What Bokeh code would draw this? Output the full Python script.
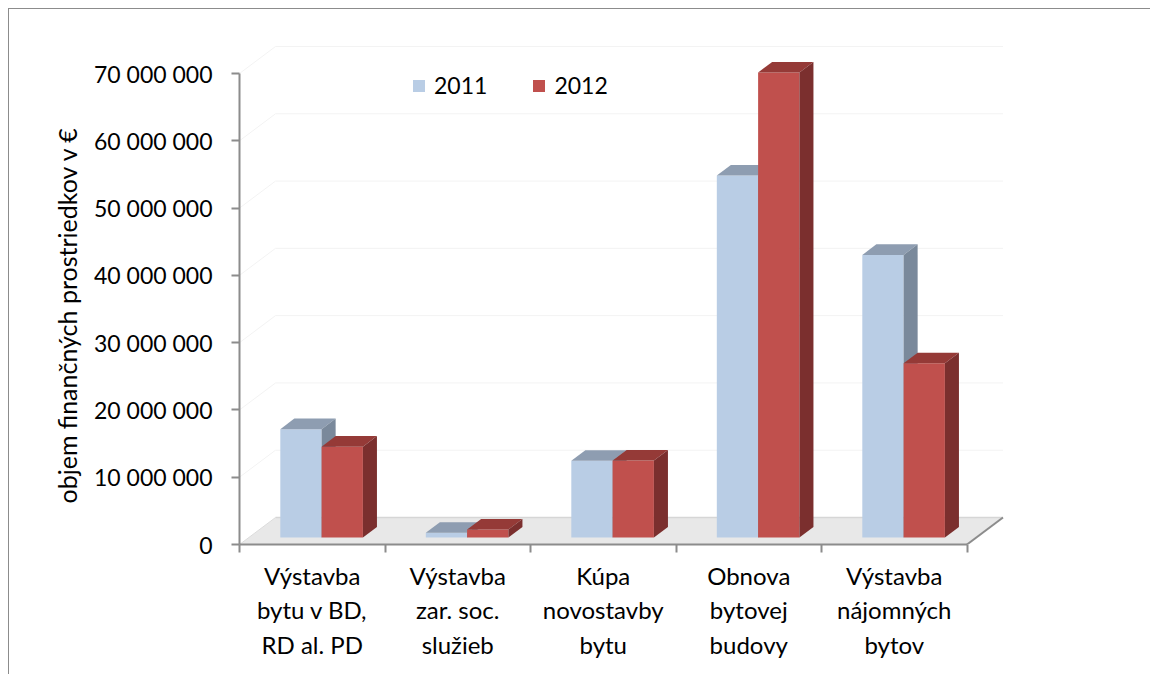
from bokeh.plotting import figure
from bokeh.models import FixedTicker, Range1d, Legend, LegendItem, Title, ColumnDataSource
from bokeh.embed import file_html
from bokeh.resources import INLINE

# ---------------- data ----------------
categories = [
    "Výstavba\nbytu v BD,\nRD al. PD",
    "Výstavba\nzar. soc.\nslužieb",
    "Kúpa\nnovostavby\nbytu",
    "Obnova\nbytovej\nbudovy",
    "Výstavba\nnájomných\nbytov",
]
series_names = ["2011", "2012"]
values_2011 = [16.1e6, 0.7e6, 11.4e6, 53.8e6, 42.0e6]
values_2012 = [13.5e6, 1.2e6, 11.45e6, 69.1e6, 25.9e6]
y_ticks = [0, 10e6, 20e6, 30e6, 40e6, 50e6, 60e6, 70e6]
y_tick_labels = ["0", "10 000 000", "20 000 000", "30 000 000", "40 000 000",
                 "50 000 000", "60 000 000", "70 000 000"]
y_title = "objem finančných prostriedkov v €"

# ---------------- style / geometry ----------------
FONT = "Lato"
N = len(categories)
PXX = 145.5            # px per category unit
PXY = 471.0 / 70e6     # px per value unit
DX = 36 / PXX          # floor depth (x units)
DY = 27 / PXY          # floor depth (value units)
BW = 41.3 / PXX        # bar width
F0 = 0.26              # bar front position in depth
FB = 0.39              # bar depth fraction

front_cols = ["#B9CDE5", "#C0504D"]
top_cols = ["#8E9DB1", "#953A37"]
side_cols = ["#7A899B", "#7B2F2E"]

FW, FH = 771, 504
p = figure(width=1142, height=666, output_backend="svg", toolbar_location=None,
           x_range=Range1d(0, FW / PXX), y_range=Range1d(0, FH / PXY),
           min_border_left=230, min_border_right=141, min_border_top=31, min_border_bottom=131)
p.outline_line_color = None
p.xgrid.visible = False
p.ygrid.visible = False
p.background_fill_color = "white"
p.border_fill_color = "white"
p.styles = {"border-top": "1px solid #8c8c8c", "border-left": "1px solid #8c8c8c",
            "margin-left": "8px", "margin-top": "8px"}

# walls: faint gridlines
gx, gy = [], []
for t in y_ticks[1:]:
    gx.append([0, DX, N + DX]); gy.append([t, t + DY, t + DY])
p.multi_line(gx, gy, line_color="#f3f3f3", line_width=1)

# floor
p.patch([0, N, N + DX, DX], [0, 0, DY, DY], fill_color="#e8e8e8", line_color=None)
p.line([DX, N + DX], [DY, DY], line_color="#d6d6d6", line_width=1.5)
p.line([0, DX], [0, DY], line_color="#dcdcdc", line_width=1)
p.line([N, N + DX], [0, DY], line_color="#8c8c8c", line_width=2)

sx = F0 * DX
sy = F0 * DY
bdx = FB * DX
bdy = FB * DY

legend_items = []
for si, vals in enumerate([values_2011, values_2012]):
    lefts = [i + 0.5 + sx - BW + si * BW for i in range(N)]
    rights = [l + BW for l in lefts]
    bottoms = [sy] * N
    tops = [v + sy for v in vals]
    src = ColumnDataSource(dict(left=lefts, right=rights, bottom=bottoms, top=tops))
    fr = p.quad(left="left", right="right", bottom="bottom", top="top", source=src,
                fill_color=front_cols[si], line_color=None)
    legend_items.append(LegendItem(label=series_names[si], renderers=[fr]))
    xs, ys, cs = [], [], []
    for l, r, b, t in zip(lefts, rights, bottoms, tops):
        xs.append([l, r, r + bdx, l + bdx]); ys.append([t, t, t + bdy, t + bdy]); cs.append(top_cols[si])
        xs.append([r, r + bdx, r + bdx, r]); ys.append([b, b + bdy, t + bdy, t]); cs.append(side_cols[si])
    p.patches(xs, ys, fill_color=cs, line_color=None)

# y axis
ya = p.yaxis[0]
ya.ticker = FixedTicker(ticks=y_ticks, minor_ticks=[])
ya.major_label_overrides = {t: l for t, l in zip(y_ticks, y_tick_labels)}
ya.bounds = (0, 70e6)
ya.axis_line_color = "#8c8c8c"; ya.axis_line_width = 2
ya.major_tick_line_color = "#8c8c8c"; ya.major_tick_line_width = 2
ya.major_tick_out = 8; ya.major_tick_in = 0
ya.minor_tick_line_color = None
ya.major_label_text_font = FONT; ya.major_label_text_font_size = "23px"
ya.major_label_text_color = "black"
ya.major_label_standoff = 19

# x axis
xa = p.xaxis[0]
xa.ticker = FixedTicker(ticks=[i + 0.5 for i in range(N)], minor_ticks=list(range(N + 1)))
xa.major_label_overrides = {i + 0.5: c for i, c in enumerate(categories)}
xa.bounds = (0, N)
xa.axis_line_color = "#8c8c8c"; xa.axis_line_width = 2
xa.major_tick_line_color = None
xa.major_tick_out = 0; xa.major_tick_in = 0
xa.minor_tick_line_color = "#8c8c8c"; xa.minor_tick_line_width = 2
xa.minor_tick_out = 8; xa.minor_tick_in = 0
xa.major_label_text_font = FONT; xa.major_label_text_font_size = "24px"
xa.major_label_text_color = "black"
xa.major_label_standoff = 8

# y axis title
p.add_layout(Title(text=y_title, align="left", offset=41, standoff=20,
                   text_font=FONT, text_font_size="25px", text_font_style="normal",
                   text_color="black"), "left")

legend = Legend(items=legend_items, orientation="horizontal", location=(172, 445),
                glyph_width=15, glyph_height=15, label_standoff=8, spacing=44,
                padding=0, margin=0, border_line_color=None, background_fill_alpha=0,
                label_text_font=FONT, label_text_font_size="23px", label_text_color="black")
p.add_layout(legend)

open("out.html", "w").write(file_html(p, INLINE))
